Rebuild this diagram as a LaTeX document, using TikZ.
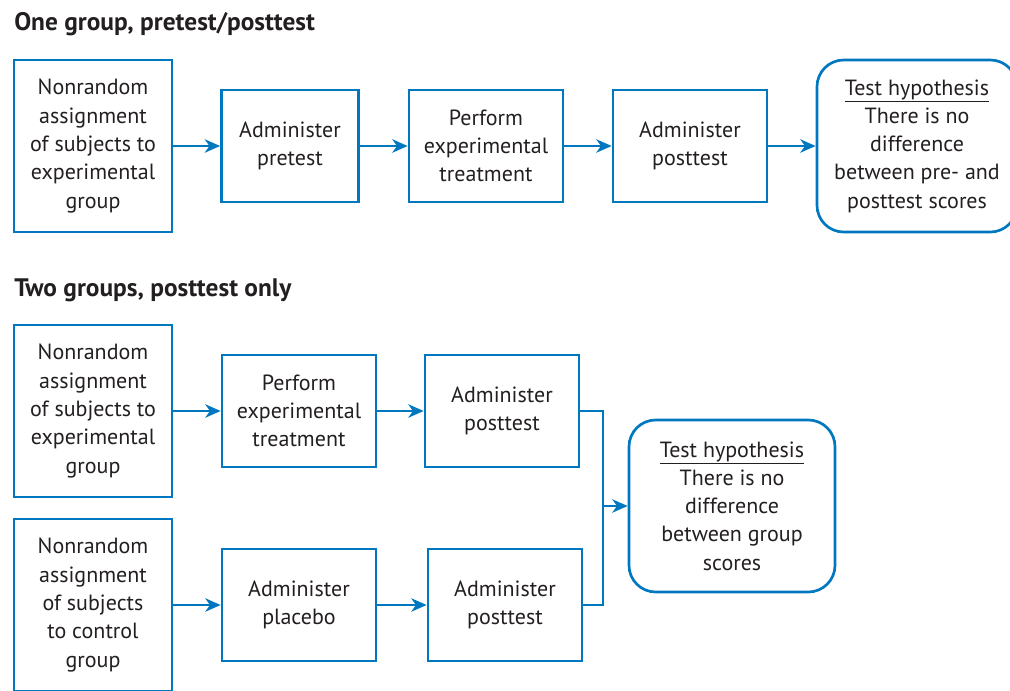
\documentclass[tikz,border=0pt]{standalone}
\usepackage{fontspec}
\setmainfont{PT Sans}
\usepackage{tikz}
\usetikzlibrary{arrows.meta, calc}

\definecolor{flowblue}{RGB}{0,120,192}
\definecolor{inkgray}{RGB}{35,31,32}

\begin{document}
\begin{tikzpicture}[x=0.75pt, y=-0.75pt,
	box/.style={draw=flowblue, line width=2pt, align=center, text=inkgray, inner sep=0pt, font=\fontsize{16.5}{21.2}\selectfont},
	tallbox/.style={box, minimum width=118.5pt, minimum height=129pt},
	shortbox/.style={box, minimum width=115.5pt, minimum height=84pt},
	hypbox/.style={box, rounded corners=20pt, minimum height=129pt},
	link/.style={draw=flowblue, line width=2pt, -{Stealth[length=11.5pt, width=10pt, inset=3.5pt]}},
	wire/.style={draw=flowblue, line width=2pt},
	heading/.style={anchor=base west, inner sep=0pt, text=inkgray, font=\bfseries\fontsize{19}{23}\selectfont}]

	\useasboundingbox (0, 0) rectangle (1010, 690);
	\clip (0, 0) rectangle (1010, 690);

	\node (T1) at (14, 30) [heading] {One group, pretest/posttest};

	\node (P1) at (93, 146) [tallbox] {Nonrandom\\assignment\\of subjects to\\experimental\\group};
	\node (P2) at (290, 146) [shortbox, minimum width=102.75pt] {Administer\\pretest};
	\node (P3) at (486, 146) [shortbox] {Perform\\experimental\\treatment};
	\node (P4) at (690, 146) [shortbox] {Administer\\posttest};
	\node (P5) at (917, 146) [hypbox, minimum width=150pt] {\underline{Test hypothesis}\\There is no\\difference\\between pre- and\\posttest scores};

	\draw [link] (P1) -- (P2);
	\draw [link] (P2) -- (P3);
	\draw [link] (P3) -- (P4);
	\draw [link] (P4) -- (P5);

	\node (T2) at (14, 296) [heading] {Two groups, posttest only};

	\node (E1) at (93, 411) [tallbox] {Nonrandom\\assignment\\of subjects to\\experimental\\group};
	\node (E2) at (299, 411) [shortbox] {Perform\\experimental\\treatment};
	\node (E3) at (502, 411) [shortbox] {Administer\\posttest};

	\node (C1) at (93, 605) [tallbox] {Nonrandom\\assignment\\of subjects\\to control\\group};
	\node (C2) at (299, 605) [shortbox] {Administer\\placebo};
	\node (C3) at (505, 605) [shortbox] {Administer\\posttest};

	\node (H2) at (732, 506) [hypbox, minimum width=154.5pt] {\underline{Test hypothesis}\\There is no\\difference\\between group\\scores};

	\draw [link] (E1) -- (E2);
	\draw [link] (E2) -- (E3);
	\draw [link] (C1) -- (C2);
	\draw [link] (C2) -- (C3);

	\coordinate (J) at (603, 506);
	\draw [wire] (E3.east) -| (J) |- (C3.east);
	\draw [link] (J) -- (H2);
\end{tikzpicture}
\end{document}
